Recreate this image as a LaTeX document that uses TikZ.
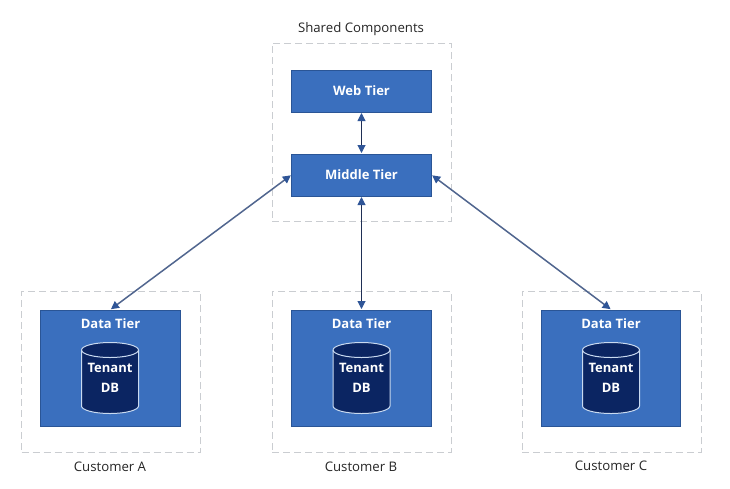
\documentclass[tikz,border=0pt]{standalone}
\usepackage{fontspec}
\setmainfont{Open Sans}
\usetikzlibrary{arrows.meta}
\definecolor{tierblue}{HTML}{3A6FBE}
\definecolor{tieredge}{HTML}{2A5596}
\definecolor{dbnavy}{HTML}{0B2562}
\definecolor{dbedge}{HTML}{C9DAF0}
\definecolor{dashgrey}{HTML}{CACDD1}
\definecolor{linkdark}{HTML}{1F2F55}
\definecolor{linkgrey}{HTML}{51668F}
\definecolor{headblue}{HTML}{2F5597}
\tikzset{
  x=1pt,y=-1pt,
  tier/.style={draw=tieredge,line width=1pt,fill=tierblue,text=white,inner sep=0pt,
    minimum width=139.5pt,font=\fontsize{13}{15}\selectfont\bfseries},
  group/.style={draw=dashgrey,line width=1pt,dash pattern=on 7pt off 4pt,minimum width=179pt,inner sep=0pt},
  dbtext/.style={text=white,align=center,font=\fontsize{13}{19.5}\selectfont\bfseries,inner sep=0pt},
  tiertext/.style={text=white,inner sep=0pt,font=\fontsize{13}{15}\selectfont\bfseries},
  caption/.style={text=black!85,inner sep=0pt,font=\fontsize{13.2}{15}\selectfont},
  linkdk/.style={draw=linkdark,line width=1pt,{Triangle[length=8pt,width=8pt,color=headblue]}-{Triangle[length=8pt,width=8pt,color=headblue]},shorten >=0.5pt,shorten <=0.5pt},
  linkgr/.style={linkdk,draw=linkgrey,line width=1.5pt},
  dbdrum/.pic={
    \begin{scope}[x=1pt,y=1pt]
      \filldraw[draw=dbedge,fill=dbnavy,line width=1pt]
        (-28.5,28) arc[start angle=180,end angle=0,x radius=28.5,y radius=7.5]
        -- (28.5,-28) arc[start angle=360,end angle=180,x radius=28.5,y radius=7.5]
        -- cycle;
      \draw[dbedge,line width=1pt]
        (-28.5,28) arc[start angle=180,end angle=360,x radius=28.5,y radius=7.5];
    \end{scope}
  },
}
\begin{document}
\begin{tikzpicture}
\useasboundingbox (0,0) rectangle (730,488);
\fill[white] (0,0) rectangle (730,488);
% dashed groups
\node[group,minimum height=178pt] (gs) at (361.5,132) {};
\node[group,minimum height=161pt] (ga) at (111,371.5) {};
\node[group,minimum height=161pt] (gb) at (361.5,371.5) {};
\node[group,minimum height=161pt] (gc) at (611.5,371.5) {};
% tiers
\node[tier,minimum height=42pt] (web) at (361.5,91) {Web Tier};
\node[tier,minimum height=42pt] (mid) at (361.5,175) {Middle Tier};
\node[tier,minimum height=116pt] (da) at (110.5,368) {};
\node[tier,minimum height=116pt] (db) at (361.5,368) {};
\node[tier,minimum height=116pt] (dc) at (611,368) {};
\node[tiertext] (la) at (110.5,324) {Data Tier};
\node[tiertext] (lb) at (361.5,324) {Data Tier};
\node[tiertext] (lc) at (611,324) {Data Tier};
% cylinders
\pic at (110,378) {dbdrum};
\pic at (361.5,378) {dbdrum};
\pic at (611,378) {dbdrum};
\node[dbtext] (ta) at (110,378) {Tenant\\DB};
\node[dbtext] (tb) at (361.5,378) {Tenant\\DB};
\node[dbtext] (tc) at (611,378) {Tenant\\DB};
% captions
\node[caption] (cs) at (361,29) {Shared Components};
\node[caption] (capa) at (110,467) {Customer A};
\node[caption] (capb) at (361,467) {Customer B};
\node[caption] (capc) at (611,466) {Customer C};
% connectors
\draw[linkdk] (web.south) -- (mid.north);
\draw[linkdk] (mid.south) -- (db.north);
\draw[linkgr] (mid.west) -- (da.north);
\draw[linkgr] (mid.east) -- (dc.north);
\end{tikzpicture}
\end{document}
